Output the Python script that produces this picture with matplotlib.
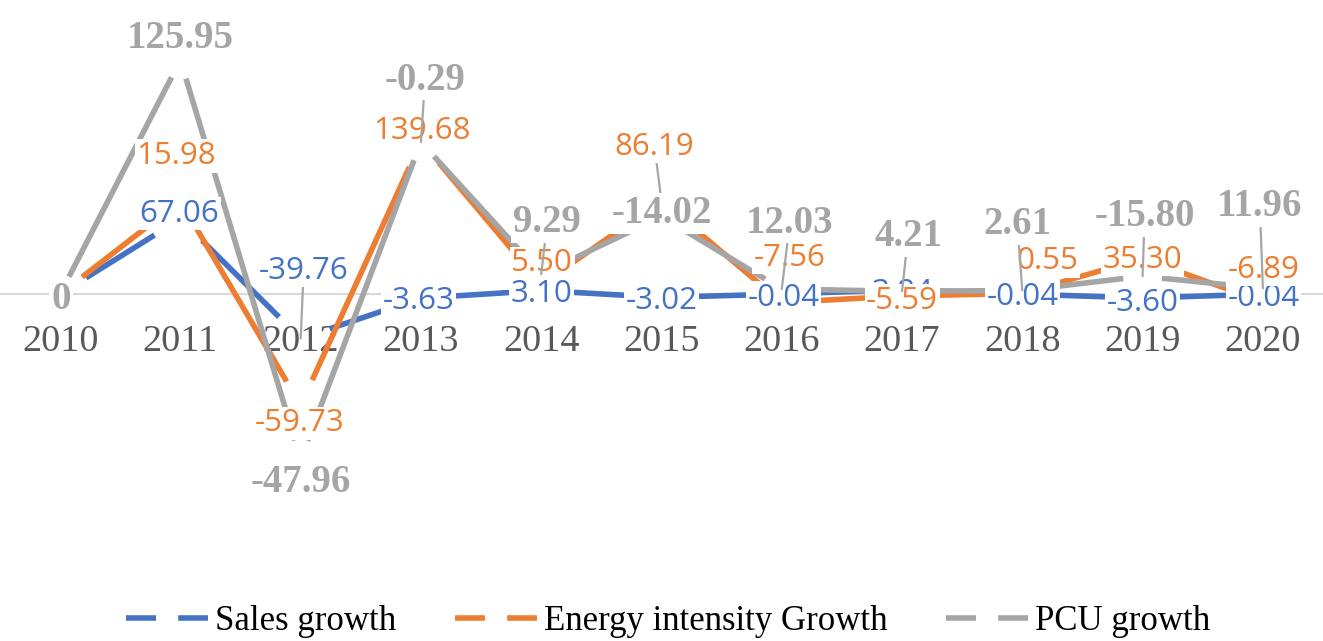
import numpy as np
import matplotlib.pyplot as plt
from matplotlib.lines import Line2D

plt.rcParams['font.family'] = 'Liberation Serif'

years = ['2010', '2011', '2012', '2013', '2014', '2015', '2016', '2017', '2018', '2019', '2020']
sales_growth = [0, 67.06, -39.76, -3.63, 3.10, -3.02, -0.04, 3.84, -0.04, -3.60, -0.04]
energy_growth = [0, 15.98, -59.73, 139.68, 5.50, 86.19, -7.56, -5.59, 0.55, 35.30, -6.89]
pcu_growth = [0, 125.95, -47.96, -0.29, 9.29, -14.02, 12.03, 4.21, 2.61, -15.80, 11.96]
series_names = ['Sales growth', 'Energy intensity Growth', 'PCU growth']

# stacked line chart: every series is drawn on top of the one before it
values = [sales_growth, energy_growth, pcu_growth]
stacked = np.cumsum(values, axis=0)

colors = ['#4472C4', '#ED7D31', '#A5A5A5']
shrink = [22, 20, 14]  # gap left around each point (pt)

# where the data labels were dragged to (offset in pixels from the point)
label_offsets = [
    [(0, 0), (-1, 8), (3, 71), (-2, 0), (0, 0), (0, -1), (2, -1), (0, 0), (0, 0), (0, -2), (1, -1)],
    [(0, 0), (-4, 48), (-1, -15), (1, 14), (1, 24), (-7, 57), (8, 48), (0, -2), (25, 35), (0, 2), (1, 35)],
    [(1, -2), (0, 25), (0, -20), (4, 65), (6, 54), (0, 6), (8, 69), (6, 58), (-5, 69), (2, 63), (-3, 85)],
]
leaders = [{2}, {5}, {3, 4, 6, 7, 8, 9, 10}]
label_style = [
    dict(family='Open Sans', fontsize=22.5),
    dict(family='Open Sans', fontsize=22.5),
    dict(family='Liberation Serif', fontsize=28, fontweight='bold'),
]

fig = plt.figure(figsize=(13.23, 6.41), dpi=100)
ax = fig.add_axes([0, 0.192, 1, 0.786])
ax.set_xlim(-0.5, len(years) - 0.5)
ax.set_ylim(-200, 250)

x = np.arange(len(years))

# lines, one piece per segment so they stop short of the points
for s in range(3):
    for i in range(len(x) - 1):
        ax.annotate('', xy=(x[i + 1], stacked[s][i + 1]), xytext=(x[i], stacked[s][i]),
                    annotation_clip=False, zorder=3 + s * 0.1,
                    arrowprops=dict(arrowstyle='-', color=colors[s], lw=4,
                                    shrinkA=shrink[s], shrinkB=shrink[s], capstyle='butt'))

# data labels
for s in range(3):
    for i in range(len(x)):
        v = values[s][i]
        txt = '0' if v == 0 else f'{v:.2f}'
        dx, dy = label_offsets[s][i]
        props = None
        if i in leaders[s]:
            props = dict(arrowstyle='-', color='#A6A6A6', lw=1.6, shrinkA=0, shrinkB=0)
        ax.annotate(txt, xy=(x[i], stacked[s][i]), xytext=(dx, dy - 3),
                    textcoords='offset pixels', ha='center', va='center',
                    color=colors[s], zorder=5 + s, annotation_clip=False,
                    bbox=dict(boxstyle='square,pad=0.05', fc='white', ec='none'),
                    arrowprops=props, **label_style[s])

for side in ['top', 'right', 'left']:
    ax.spines[side].set_visible(False)
ax.spines['bottom'].set_position(('data', 0))
ax.spines['bottom'].set_color('#D9D9D9')
ax.spines['bottom'].set_linewidth(1.5)
ax.set_yticks([])
ax.set_xticks(x, years)
ax.tick_params(axis='x', length=0, pad=22, labelsize=27.5, labelcolor='#595959')

handles = [Line2D([], [], color=c, lw=4, dashes=(5.4, 4), dash_capstyle='butt') for c in colors]
fig.legend(handles, series_names, loc='center', bbox_to_anchor=(0.505, 0.03), ncol=3,
           frameon=False, fontsize=25, handlelength=2.36, handletextpad=0.2,
           columnspacing=1.7)

fig.savefig('out.png', dpi=100)
